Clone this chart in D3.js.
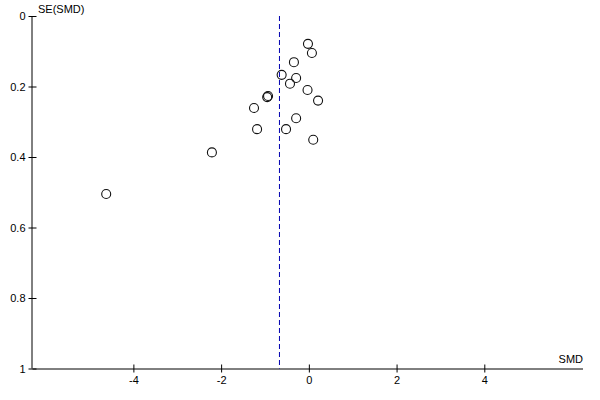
<!DOCTYPE html>
<html><head><meta charset="utf-8">
<script src="https://cdn.jsdelivr.net/npm/d3@7"></script>
<style>body{margin:0;background:#fff}svg{display:block}text{font-family:"Liberation Sans",Arial,sans-serif;font-size:11px;fill:#000}</style>
</head><body>
<script>
const smd = [-0.02, 0.07, -0.34, -0.62, -0.29, -0.43, -0.03, -0.93, -0.95, 0.21, -1.25, -0.29, -1.18, -0.52, 0.10, -2.21, -4.62];
const se  = [0.079, 0.105, 0.131, 0.167, 0.176, 0.192, 0.210, 0.227, 0.230, 0.240, 0.261, 0.290, 0.321, 0.321, 0.351, 0.387, 0.505];
const pooled = -0.67;
const xTicks = [-4, -2, 0, 2, 4];
const yTicks = [0, 0.2, 0.4, 0.6, 0.8, 1];
const yTickLabels = ["0", "0.2", "0.4", "0.6", "0.8", "1"];
const xLabel = "SMD", yLabel = "SE(SMD)";

const W = 600, H = 400;
const svg = d3.select("body").append("svg").attr("width", W).attr("height", H);
const x = d3.scaleLinear().domain([-6.3, 6.25]).range([32.5, 583]);
const y = d3.scaleLinear().domain([0, 1]).range([16, 368.5]);

// x axis
const xg = svg.append("g").attr("transform", `translate(0,${y(1)})`)
  .call(d3.axisBottom(x).tickValues(xTicks).tickSize(4).tickSizeOuter(0).tickFormat(d3.format("d")));
xg.select(".domain").attr("stroke", "#000").attr("d", `M${x.range()[0]},0.5H${x.range()[1]}`);
xg.selectAll(".tick line").attr("y1", -4).attr("y2", 4).attr("stroke", "#000");
xg.selectAll(".tick text").attr("y", 8).attr("dy", "0.71em").style("font-size", "11px").text(d => d < 0 ? "-" + Math.abs(d) : d);

// y axis
const yg = svg.append("g").attr("transform", `translate(${x.range()[0]},0)`)
  .call(d3.axisLeft(y).tickValues(yTicks).tickSize(4).tickSizeOuter(0).tickFormat((d, i) => yTickLabels[i]));
yg.select(".domain").attr("stroke", "#000").attr("d", `M-0.5,${y(0)}V${y(1)}`);
yg.selectAll(".tick line").attr("x1", -4).attr("x2", 4).attr("stroke", "#000");
yg.selectAll(".tick text").attr("x", -7).style("font-size", "11px");

svg.append("text").attr("x", 38).attr("y", 13).text(yLabel);
svg.append("text").attr("x", x.range()[1]).attr("y", 363).attr("text-anchor", "end").text(xLabel);

// pooled dashed line
svg.append("line").attr("x1", x(pooled)).attr("x2", x(pooled)).attr("y1", y(0)).attr("y2", y(1))
  .attr("stroke", "#0000b0").attr("stroke-width", 1).attr("stroke-dasharray", "5,3");

// points
svg.append("g").selectAll("circle").data(smd.map((d, i) => [d, se[i]])).join("circle")
  .attr("cx", d => x(d[0])).attr("cy", d => y(d[1])).attr("r", 4.5)
  .attr("fill", "#fff").attr("fill-opacity", 0).attr("stroke", "#111").attr("stroke-width", 1.1);
</script>
</body></html>
